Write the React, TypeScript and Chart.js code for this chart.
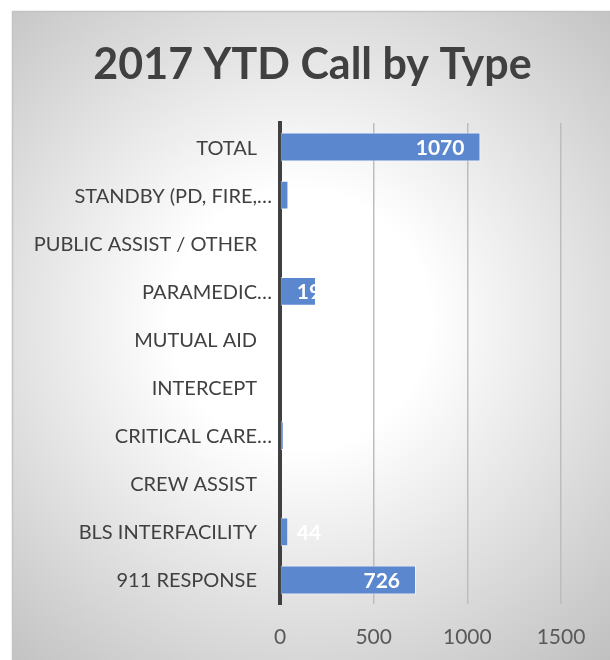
import React, { useEffect, useRef } from "react";
import { Chart, registerables } from "chart.js";

Chart.register(...registerables);

const TITLE = "2017 YTD Call by Type";
const categories = [
  "TOTAL",
  "STANDBY (PD, FIRE,…",
  "PUBLIC ASSIST / OTHER",
  "PARAMEDIC…",
  "MUTUAL AID",
  "INTERCEPT",
  "CRITICAL CARE…",
  "CREW ASSIST",
  "BLS INTERFACILITY",
  "911 RESPONSE",
];
const values = [1070, 45, 0, 192, 0, 0, 20, 0, 44, 726];
const xTicks = [0, 500, 1000, 1500];

const FONT = "Lato, 'Open Sans', sans-serif";

export default function App() {
  const ref = useRef<HTMLCanvasElement>(null);

  useEffect(() => {
    const canvas = ref.current;
    if (!canvas) return;

    const bgPlugin = {
      id: "bgTitle",
      beforeDraw(chart: any) {
        const ctx = chart.ctx as CanvasRenderingContext2D;
        const W = chart.width;
        const H = chart.height;
        ctx.save();
        ctx.fillStyle = "#ffffff";
        ctx.fillRect(0, 0, W, H);
        const g = ctx.createRadialGradient(300, 320, 0, 300, 320, 460);
        g.addColorStop(0, "#ffffff");
        g.addColorStop(0.28, "#ffffff");
        g.addColorStop(1, "#c0c0c0");
        ctx.fillStyle = g;
        ctx.fillRect(12, 11, W - 12, H - 11);
        ctx.strokeStyle = "#c4c4c4";
        ctx.lineWidth = 1.5;
        ctx.beginPath();
        ctx.moveTo(12.5, H);
        ctx.lineTo(12.5, 11.5);
        ctx.lineTo(W, 11.5);
        ctx.stroke();
        ctx.fillStyle = "#404040";
        ctx.font = `bold 43px ${FONT}`;
        ctx.textAlign = "center";
        ctx.textBaseline = "alphabetic";
        ctx.fillText(TITLE, 312.5, 78.5);
        ctx.restore();
      },
    };

    const labelPlugin = {
      id: "labels",
      afterDraw(chart: any) {
        const ctx = chart.ctx as CanvasRenderingContext2D;
        const yScale = chart.scales.y;
        ctx.save();
        ctx.fillStyle = "#404040";
        ctx.font = `20px ${FONT}`;
        ctx.textAlign = "right";
        ctx.textBaseline = "middle";
        categories.forEach((c, i) => {
          const y = yScale.getPixelForValue(i);
          const trunc = c.endsWith("…");
          ctx.fillText(c, yScale.right - (trunc ? 8 : 23), y + 1);
        });
        const meta = chart.getDatasetMeta(0);
        ctx.font = `bold 21px ${FONT}`;
        ctx.fillStyle = "#ffffff";
        meta.data.forEach((bar: any, i: number) => {
          const v = values[i];
          if (!v) return;
          const text = String(v);
          const w = ctx.measureText(text).width;
          const base = bar.base;
          let x = bar.x - 16;
          if (x - w < base + 16) {
            ctx.textAlign = "left";
            x = base + 16;
          } else {
            ctx.textAlign = "right";
          }
          ctx.fillText(text, x, bar.y + 1);
        });
        ctx.restore();
      },
    };

    const chart = new Chart(canvas, {
      type: "bar",
      data: {
        labels: categories,
        datasets: [
          {
            data: values,
            backgroundColor: "#5b87cf",
            borderColor: "rgba(255,255,255,0.55)",
            borderWidth: 1,
            borderSkipped: false,
            barPercentage: 0.6,
            categoryPercentage: 1,
          },
        ],
      },
      options: {
        indexAxis: "y",
        responsive: false,
        animation: false,
        layout: { padding: { top: 123, right: 49, left: 0, bottom: 0 } },
        plugins: {
          legend: { display: false },
          tooltip: { enabled: false },
          title: { display: false },
        },
        scales: {
          x: {
            min: 0,
            max: 1500,
            afterBuildTicks: (s: any) => {
              s.ticks = xTicks.map((v) => ({ value: v }));
            },
            grid: {
              color: (ctx: any) =>
                ctx.tick && ctx.tick.value === 0 ? "rgba(0,0,0,0)" : "#bdbdbd",
              lineWidth: 1.5,
              drawTicks: false,
            },
            border: { display: false },
            ticks: {
              color: "#595959",
              font: { family: FONT, size: 21 },
              padding: 21,
              callback: (v: any) => String(v),
            },
            afterFit: (s: any) => {
              s.height = 56;
            },
          },
          y: {
            grid: { display: false, drawTicks: false },
            border: { display: true, color: "#404040", width: 4 },
            ticks: { display: false },
            afterFit: (s: any) => {
              s.width = 280;
            },
            z: 1,
          },
        },
      },
      plugins: [bgPlugin, labelPlugin],
    } as any);

    return () => chart.destroy();
  }, []);

  return (
    <div style={{ position: "absolute", left: 0, top: 0, width: 610, height: 660 }}>
      <canvas ref={ref} width={610} height={660} style={{ display: "block" }} />
    </div>
  );
}
